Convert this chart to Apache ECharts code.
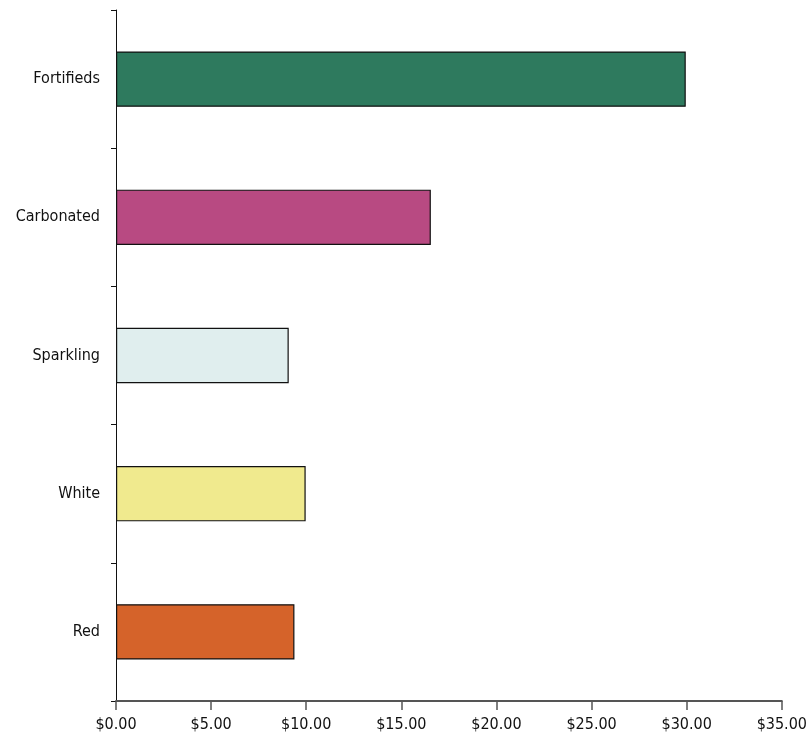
<!DOCTYPE html>
<html><head><meta charset="utf-8">
<script src="https://cdn.jsdelivr.net/npm/echarts@6/dist/echarts.min.js"></script>
<style>html,body{margin:0;padding:0;background:#fff}#c{width:810px;height:755px}</style>
</head><body><div id="c"></div>
<script>
const categories = ['Red', 'White', 'Sparkling', 'Carbonated', 'Fortifieds'];
const values = [9.38, 9.97, 9.08, 16.55, 29.95];
const colors = ['#d5632a', '#f0ea8e', '#e0eeee', '#b84a82', '#2e7a5e'];
const xTicks = [0, 5, 10, 15, 20, 25, 30, 35];

const FONT = "'DejaVu Sans Condensed', sans-serif";
const chart = echarts.init(document.getElementById('c'), null, {renderer: 'canvas'});
chart.setOption({
  animation: false,
  grid: {left: 116, right: 27, top: 10, bottom: 54, containLabel: false},
  xAxis: {
    type: 'value', min: xTicks[0], max: xTicks[xTicks.length - 1], interval: 5,
    axisLine: {show: true, onZero: false, lineStyle: {color: '#555', width: 2}},
    axisTick: {show: true, inside: false, length: 9, lineStyle: {color: '#555', width: 1.5}},
    splitLine: {show: false},
    axisLabel: {margin: 16, color: '#111', fontFamily: FONT, fontSize: 16,
      formatter: v => '$' + v.toFixed(2)}
  },
  yAxis: {
    type: 'category', data: categories,
    axisLine: {show: true, lineStyle: {color: '#111', width: 1}},
    axisTick: {show: true, length: 5, lineStyle: {color: '#111'}},
    axisLabel: {margin: 16, color: '#111', fontFamily: FONT, fontSize: 16}
  },
  series: [{
    type: 'bar', barWidth: '40%',
    data: values.map((v, i) => ({value: v, itemStyle: {color: colors[i]}})),
    itemStyle: {borderColor: '#111', borderWidth: 1.2}
  }]
});
</script></body></html>
